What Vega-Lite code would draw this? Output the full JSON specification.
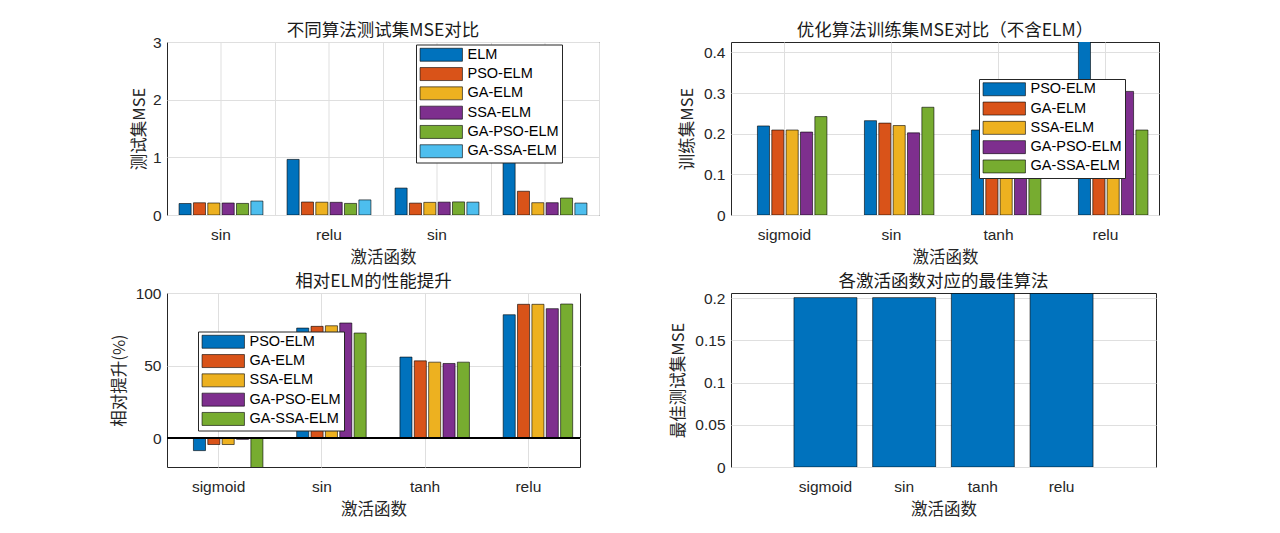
{
  "$schema": "https://vega.github.io/schema/vega-lite/v6.json",
  "background": "white",
  "padding": {"left": 110, "top": 21, "right": 5, "bottom": 5},
  "datasets": {
    "test": [
      {"act": "sigmoid", "algo": "ELM", "mse": 0.199},
      {"act": "sigmoid", "algo": "PSO-ELM", "mse": 0.212},
      {"act": "sigmoid", "algo": "GA-ELM", "mse": 0.208},
      {"act": "sigmoid", "algo": "SSA-ELM", "mse": 0.208},
      {"act": "sigmoid", "algo": "GA-PSO-ELM", "mse": 0.201},
      {"act": "sigmoid", "algo": "GA-SSA-ELM", "mse": 0.242},
      {"act": "sin", "algo": "ELM", "mse": 0.964},
      {"act": "sin", "algo": "PSO-ELM", "mse": 0.225},
      {"act": "sin", "algo": "GA-ELM", "mse": 0.222},
      {"act": "sin", "algo": "SSA-ELM", "mse": 0.22},
      {"act": "sin", "algo": "GA-PSO-ELM", "mse": 0.201},
      {"act": "sin", "algo": "GA-SSA-ELM", "mse": 0.262},
      {"act": "tanh", "algo": "ELM", "mse": 0.467},
      {"act": "tanh", "algo": "PSO-ELM", "mse": 0.206},
      {"act": "tanh", "algo": "GA-ELM", "mse": 0.219},
      {"act": "tanh", "algo": "SSA-ELM", "mse": 0.223},
      {"act": "tanh", "algo": "GA-PSO-ELM", "mse": 0.227},
      {"act": "tanh", "algo": "GA-SSA-ELM", "mse": 0.223},
      {"act": "relu", "algo": "ELM", "mse": 2.72},
      {"act": "relu", "algo": "PSO-ELM", "mse": 0.412},
      {"act": "relu", "algo": "GA-ELM", "mse": 0.213},
      {"act": "relu", "algo": "SSA-ELM", "mse": 0.213},
      {"act": "relu", "algo": "GA-PSO-ELM", "mse": 0.294},
      {"act": "relu", "algo": "GA-SSA-ELM", "mse": 0.207}
    ],
    "train": [
      {"act": "sigmoid", "algo": "PSO-ELM", "mse": 0.219},
      {"act": "sigmoid", "algo": "GA-ELM", "mse": 0.209},
      {"act": "sigmoid", "algo": "SSA-ELM", "mse": 0.209},
      {"act": "sigmoid", "algo": "GA-PSO-ELM", "mse": 0.204},
      {"act": "sigmoid", "algo": "GA-SSA-ELM", "mse": 0.242},
      {"act": "sin", "algo": "PSO-ELM", "mse": 0.232},
      {"act": "sin", "algo": "GA-ELM", "mse": 0.226},
      {"act": "sin", "algo": "SSA-ELM", "mse": 0.22},
      {"act": "sin", "algo": "GA-PSO-ELM", "mse": 0.202},
      {"act": "sin", "algo": "GA-SSA-ELM", "mse": 0.265},
      {"act": "tanh", "algo": "PSO-ELM", "mse": 0.209},
      {"act": "tanh", "algo": "GA-ELM", "mse": 0.221},
      {"act": "tanh", "algo": "SSA-ELM", "mse": 0.215},
      {"act": "tanh", "algo": "GA-PSO-ELM", "mse": 0.205},
      {"act": "tanh", "algo": "GA-SSA-ELM", "mse": 0.21},
      {"act": "relu", "algo": "PSO-ELM", "mse": 0.55},
      {"act": "relu", "algo": "GA-ELM", "mse": 0.215},
      {"act": "relu", "algo": "SSA-ELM", "mse": 0.212},
      {"act": "relu", "algo": "GA-PSO-ELM", "mse": 0.304},
      {"act": "relu", "algo": "GA-SSA-ELM", "mse": 0.209}
    ],
    "improve": [
      {"act": "sigmoid", "algo": "PSO-ELM", "pct": -8.7},
      {"act": "sigmoid", "algo": "GA-ELM", "pct": -4.5},
      {"act": "sigmoid", "algo": "SSA-ELM", "pct": -4.5},
      {"act": "sigmoid", "algo": "GA-PSO-ELM", "pct": -0.9},
      {"act": "sigmoid", "algo": "GA-SSA-ELM", "pct": -23},
      {"act": "sin", "algo": "PSO-ELM", "pct": 75.8},
      {"act": "sin", "algo": "GA-ELM", "pct": 77.0},
      {"act": "sin", "algo": "SSA-ELM", "pct": 77.4},
      {"act": "sin", "algo": "GA-PSO-ELM", "pct": 79.3},
      {"act": "sin", "algo": "GA-SSA-ELM", "pct": 72.4},
      {"act": "tanh", "algo": "PSO-ELM", "pct": 55.8},
      {"act": "tanh", "algo": "GA-ELM", "pct": 53.2},
      {"act": "tanh", "algo": "SSA-ELM", "pct": 52.3},
      {"act": "tanh", "algo": "GA-PSO-ELM", "pct": 51.4},
      {"act": "tanh", "algo": "GA-SSA-ELM", "pct": 52.3},
      {"act": "relu", "algo": "PSO-ELM", "pct": 85.0},
      {"act": "relu", "algo": "GA-ELM", "pct": 92.2},
      {"act": "relu", "algo": "SSA-ELM", "pct": 92.2},
      {"act": "relu", "algo": "GA-PSO-ELM", "pct": 89.2},
      {"act": "relu", "algo": "GA-SSA-ELM", "pct": 92.4}
    ],
    "best": [
      {"act": "sigmoid", "mse": 0.2008},
      {"act": "sin", "mse": 0.2008},
      {"act": "tanh", "mse": 0.2058},
      {"act": "relu", "mse": 0.2058}
    ]
  },
  "columns": 2,
  "spacing": {"row": 78, "column": 132},
  "bounds": "flush",
  "resolve": {"scale": {"color": "independent", "x": "independent", "y": "independent"}},
  "concat": [
    {
      "width": 432,
      "height": 173,
      "title": {"text": "不同算法测试集MSE对比", "offset": -4.3},
      "data": {"name": "test"},
      "layer": [
        {
          "transform": [{"aggregate": [{"op": "count", "as": "n"}], "groupby": ["act"]}],
          "mark": {"type": "rule", "color": "#dfdfdf", "strokeWidth": 1},
          "encoding": {
            "x": {"field": "act", "type": "nominal", "sort": ["sigmoid", "sin", "tanh", "relu"],
              "scale": {"paddingInner": 0, "paddingOuter": 0},
              "axis": {"title": "激活函数", "bandPosition": 1, "grid": true,
                "labelExpr": "datum.value == 'sigmoid' ? 'sin' : datum.value == 'sin' ? 'relu' : datum.value == 'tanh' ? 'sin' : ''"}}
          }
        },
        {
          "mark": {"type": "bar", "stroke": "black", "strokeWidth": 0.6, "clip": true},
          "encoding": {
            "x": {"field": "act", "type": "nominal", "sort": ["sigmoid", "sin", "tanh", "relu"],
              "scale": {"paddingInner": 0, "paddingOuter": 0},
              "axis": {"title": "激活函数", "bandPosition": 1, "grid": true,
                "labelExpr": "datum.value == 'sigmoid' ? 'sin' : datum.value == 'sin' ? 'relu' : datum.value == 'tanh' ? 'sin' : ''"}},
            "xOffset": {"field": "algo", "type": "nominal",
              "sort": ["ELM", "PSO-ELM", "GA-ELM", "SSA-ELM", "GA-PSO-ELM", "GA-SSA-ELM"],
              "scale": {"paddingInner": 0.16, "paddingOuter": 0.84}},
            "y": {"field": "mse", "type": "quantitative",
              "scale": {"domain": [0, 3], "nice": false},
              "axis": {"title": "测试集MSE", "values": [0, 1, 2, 3], "grid": true, "titlePadding": 5}},
            "color": {"field": "algo", "type": "nominal",
              "scale": {"domain": ["ELM", "PSO-ELM", "GA-ELM", "SSA-ELM", "GA-PSO-ELM", "GA-SSA-ELM"],
                "range": ["#0072BD", "#D95319", "#EDB120", "#7E2F8E", "#77AC30", "#4DBEEE"]},
              "legend": {"title": null, "orient": "none", "legendX": 249, "legendY": 2.5}}
          }
        }
      ]
    },
    {
      "width": 428,
      "height": 173,
      "title": {"text": "优化算法训练集MSE对比（不含ELM）", "offset": 2.7},
      "data": {"name": "train"},
      "mark": {"type": "bar", "stroke": "black", "strokeWidth": 0.6, "clip": true},
      "encoding": {
        "x": {"field": "act", "type": "nominal", "sort": ["sigmoid", "sin", "tanh", "relu"],
          "scale": {"paddingInner": 0, "paddingOuter": 0},
          "axis": {"title": "激活函数", "bandPosition": 0.5, "grid": true}},
        "xOffset": {"field": "algo", "type": "nominal",
          "sort": ["PSO-ELM", "GA-ELM", "SSA-ELM", "GA-PSO-ELM", "GA-SSA-ELM"],
          "scale": {"paddingInner": 0.16, "paddingOuter": 0.84}},
        "y": {"field": "mse", "type": "quantitative",
          "scale": {"domain": [0, 0.4255], "nice": false},
          "axis": {"title": "训练集MSE", "values": [0, 0.1, 0.2, 0.3, 0.4], "format": "~g", "grid": true}},
        "color": {"field": "algo", "type": "nominal",
          "scale": {"domain": ["PSO-ELM", "GA-ELM", "SSA-ELM", "GA-PSO-ELM", "GA-SSA-ELM"],
            "range": ["#0072BD", "#D95319", "#EDB120", "#7E2F8E", "#77AC30"]},
          "legend": {"title": null, "orient": "none", "legendX": 248, "legendY": 37}}
      }
    },
    {
      "width": 413,
      "height": 174,
      "title": {"text": "相对ELM的性能提升", "offset": -4.3},
      "data": {"name": "improve"},
      "layer": [
        {
          "mark": {"type": "bar", "stroke": "black", "strokeWidth": 0.6, "clip": true},
          "encoding": {
            "x": {"field": "act", "type": "nominal", "sort": ["sigmoid", "sin", "tanh", "relu"],
              "scale": {"paddingInner": 0, "paddingOuter": 0},
              "axis": {"title": "激活函数", "bandPosition": 0.5, "grid": true}},
            "xOffset": {"field": "algo", "type": "nominal",
              "sort": ["PSO-ELM", "GA-ELM", "SSA-ELM", "GA-PSO-ELM", "GA-SSA-ELM"],
              "scale": {"paddingInner": 0.16, "paddingOuter": 0.84}},
            "y": {"field": "pct", "type": "quantitative",
              "scale": {"domain": [-20, 100], "nice": false},
              "axis": {"title": "相对提升(%)", "values": [0, 50, 100], "grid": true}},
            "color": {"field": "algo", "type": "nominal",
              "scale": {"domain": ["PSO-ELM", "GA-ELM", "SSA-ELM", "GA-PSO-ELM", "GA-SSA-ELM"],
                "range": ["#0072BD", "#D95319", "#EDB120", "#7E2F8E", "#77AC30"]},
              "legend": {"title": null, "orient": "none", "legendX": 31, "legendY": 38.5}}
          }
        },
        {
          "mark": {"type": "rule", "color": "#000000", "strokeWidth": 1},
          "encoding": {"y": {"datum": 0}}
        }
      ]
    },
    {
      "width": 425,
      "height": 174,
      "title": {"text": "各激活函数对应的最佳算法", "offset": 1},
      "data": {"name": "best"},
      "mark": {"type": "bar", "color": "#0072BD", "stroke": "black", "strokeWidth": 0.6, "clip": true},
      "encoding": {
        "x": {"field": "act", "type": "nominal", "sort": ["sigmoid", "sin", "tanh", "relu"],
          "scale": {"paddingInner": 0.2, "paddingOuter": 0.8},
          "axis": {"title": "激活函数", "grid": false}},
        "y": {"field": "mse", "type": "quantitative",
          "scale": {"domain": [0, 0.2063], "nice": false},
          "axis": {"title": "最佳测试集MSE", "values": [0, 0.05, 0.1, 0.15, 0.2], "format": "~g", "grid": true}}
      }
    }
  ],
  "config": {
    "view": {"stroke": "#262626", "strokeWidth": 1},
    "axis": {
      "labelFont": "Liberation Sans", "labelFontSize": 15.5, "labelColor": "#262626",
      "titleFont": "Noto Sans CJK SC", "titleFontSize": 16.5, "titleFontWeight": "normal", "titleColor": "#262626",
      "gridColor": "#dfdfdf", "gridOpacity": 1, "domain": false, "ticks": false
    },
    "axisX": {"labelPadding": 12, "titlePadding": 7, "labelAngle": 0},
    "axisY": {"labelPadding": 6, "titlePadding": 8},
    "title": {"font": "Noto Sans CJK SC", "fontSize": 17.5, "fontWeight": "normal", "color": "#1a1a1a", "frame": "group"},
    "legend": {
      "labelFont": "Liberation Sans", "labelFontSize": 14.5, "labelColor": "#000000",
      "symbolType": "M-3.26,-1H3.26V1H-3.26Z", "symbolSize": 169,
      "symbolStrokeColor": "#000000", "symbolStrokeWidth": 0.6, "symbolOpacity": 1,
      "symbolOffset": 15, "labelOffset": 19, "rowPadding": 3.3, "padding": 3,
      "strokeColor": "#262626", "fillColor": "white", "cornerRadius": 0, "strokeWidth": 1
    }
  }
}
